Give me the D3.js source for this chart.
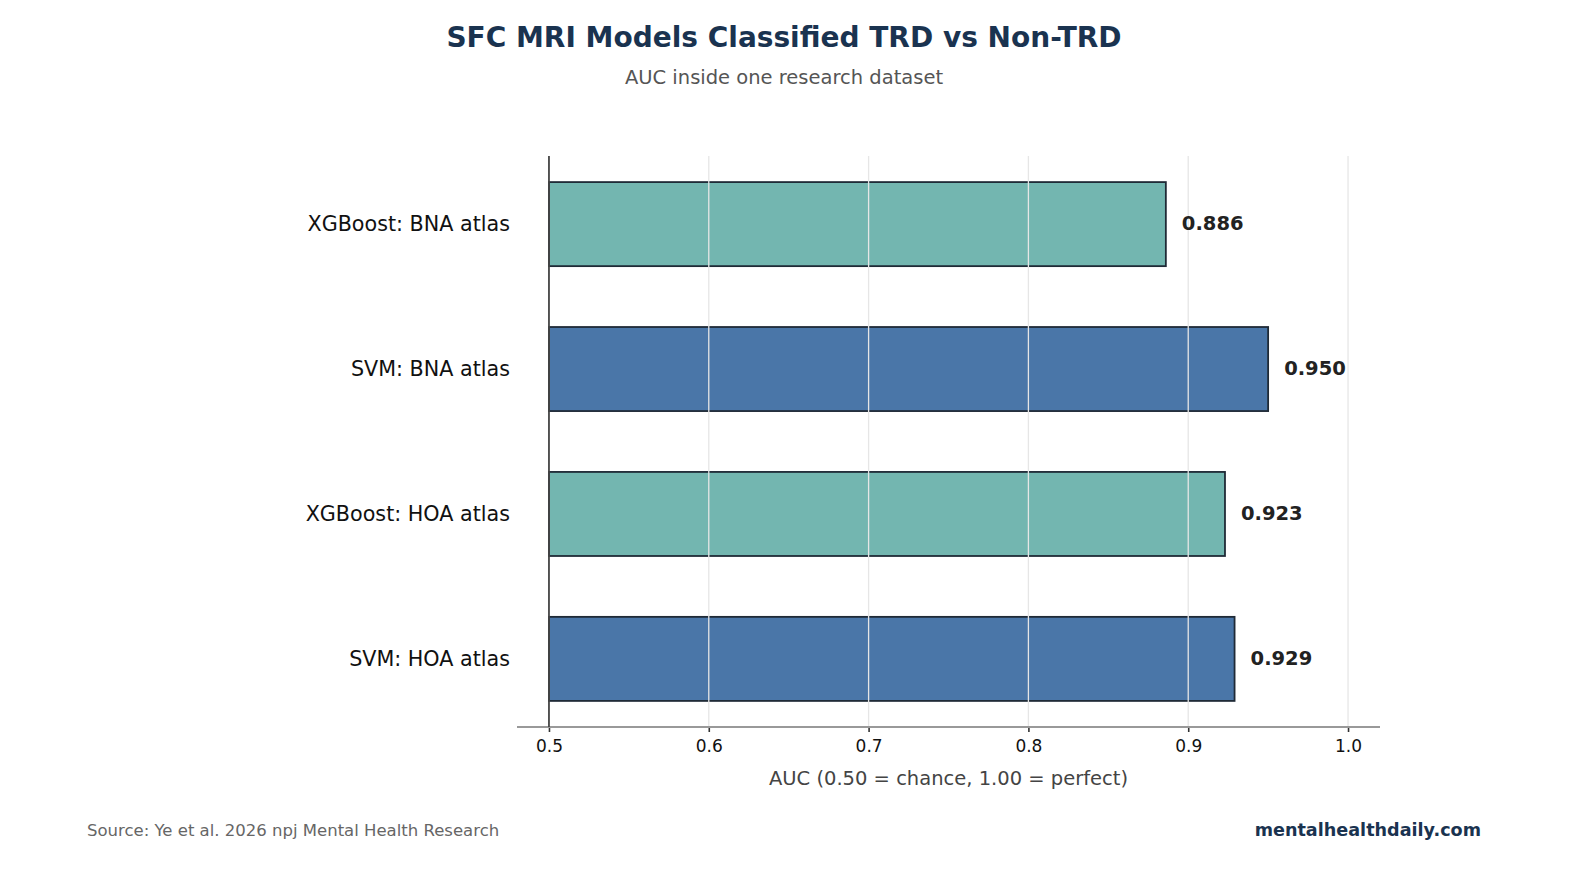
<!DOCTYPE html>
<html>
<head>
<meta charset="utf-8">
<script src="https://cdn.jsdelivr.net/npm/d3@7/dist/d3.min.js"></script>
<style>
  html, body { margin: 0; padding: 0; background: #fff; overflow: hidden; }
  svg { display: block; font-family: "DejaVu Sans", sans-serif; }
</style>
</head>
<body>
<div id="chart"></div>
<script>
// data, top to bottom
var models = ["XGBoost: BNA atlas", "SVM: BNA atlas", "XGBoost: HOA atlas", "SVM: HOA atlas"];
var aucValues = [0.886, 0.950, 0.923, 0.929];
var barColors = ["#73b6b0", "#4a76a8", "#73b6b0", "#4a76a8"];
var xTicks = [0.5, 0.6, 0.7, 0.8, 0.9, 1.0];

var width = 1575, height = 870;
var svg = d3.select("#chart").append("svg")
  .attr("width", width)
  .attr("height", height)
  .attr("viewBox", "0 0 " + width + " " + height);

var plotLeft = 517, plotRight = 1380, plotTop = 156, plotBottom = 727;

var x = d3.scaleLinear().domain([0.48, 1.02]).range([plotLeft, plotRight]);
var y = d3.scaleLinear().domain([-0.47, 3.47]).range([plotTop, plotBottom]);
var barHeight = 0.58;

// title
svg.append("text")
  .attr("x", 784).attr("y", 47)
  .attr("text-anchor", "middle")
  .attr("font-size", 28).attr("font-weight", "bold")
  .attr("fill", "#1a3350")
  .text("SFC MRI Models Classified TRD vs Non-TRD");

svg.append("text")
  .attr("x", 784).attr("y", 84)
  .attr("text-anchor", "middle")
  .attr("font-size", 19.5)
  .attr("fill", "#555")
  .text("AUC inside one research dataset");

// bars
svg.append("g").selectAll("rect")
  .data(aucValues)
  .join("rect")
  .attr("x", x(0.5))
  .attr("y", function (d, i) { return y(i - barHeight / 2); })
  .attr("width", function (d) { return x(d) - x(0.5); })
  .attr("height", y(barHeight) - y(0))
  .attr("fill", function (d, i) { return barColors[i]; })
  .attr("stroke", "#1f2a36")
  .attr("stroke-width", 1.8);

// grid lines on top of bars
svg.append("g").selectAll("line")
  .data(xTicks.slice(1))
  .join("line")
  .attr("x1", function (d) { return x(d); })
  .attr("x2", function (d) { return x(d); })
  .attr("y1", plotTop)
  .attr("y2", plotBottom)
  .attr("stroke", "#e6e6e6")
  .attr("stroke-width", 1.3);

// x axis
var xAxis = d3.axisBottom(x)
  .tickValues(xTicks)
  .tickFormat(d3.format(".1f"))
  .tickSize(5)
  .tickPadding(8);

var axisG = svg.append("g")
  .attr("transform", "translate(0," + plotBottom + ")")
  .call(xAxis);
axisG.select(".domain").remove();
axisG.append("line")
  .attr("x1", plotLeft).attr("x2", plotRight)
  .attr("stroke", "#999").attr("stroke-width", 2);
axisG.selectAll(".tick line").attr("stroke", "#333").attr("stroke-width", 1.6);
axisG.selectAll(".tick text")
  .attr("font-family", "DejaVu Sans, sans-serif")
  .attr("font-size", 17)
  .attr("fill", "#111");

// vertical line at chance level
svg.append("line")
  .attr("x1", x(0.5)).attr("x2", x(0.5))
  .attr("y1", plotTop).attr("y2", plotBottom)
  .attr("stroke", "#444").attr("stroke-width", 1.8);

svg.append("text")
  .attr("x", (plotLeft + plotRight) / 2).attr("y", 785)
  .attr("text-anchor", "middle")
  .attr("font-size", 19.5)
  .attr("fill", "#444")
  .text("AUC (0.50 = chance, 1.00 = perfect)");

// category labels
svg.append("g").selectAll("text")
  .data(models)
  .join("text")
  .attr("x", 510)
  .attr("y", function (d, i) { return y(i); })
  .attr("dy", "0.35em")
  .attr("text-anchor", "end")
  .attr("font-size", 20.7)
  .attr("fill", "#111")
  .text(function (d) { return d; });

// value labels
svg.append("g").selectAll("text")
  .data(aucValues)
  .join("text")
  .attr("x", function (d) { return x(d) + 16; })
  .attr("y", function (d, i) { return y(i) - 1; })
  .attr("dy", "0.35em")
  .attr("font-size", 19.5)
  .attr("font-weight", "bold")
  .attr("fill", "#222")
  .text(function (d) { return d3.format(".3f")(d); });

// footer
svg.append("text")
  .attr("x", 87).attr("y", 836)
  .attr("font-size", 16.5)
  .attr("fill", "#666")
  .text("Source: Ye et al. 2026 npj Mental Health Research");

svg.append("text")
  .attr("x", 1481).attr("y", 836)
  .attr("text-anchor", "end")
  .attr("font-size", 17.6)
  .attr("font-weight", "bold")
  .attr("fill", "#1a3350")
  .text("mentalhealthdaily.com");
</script>
</body>
</html>
